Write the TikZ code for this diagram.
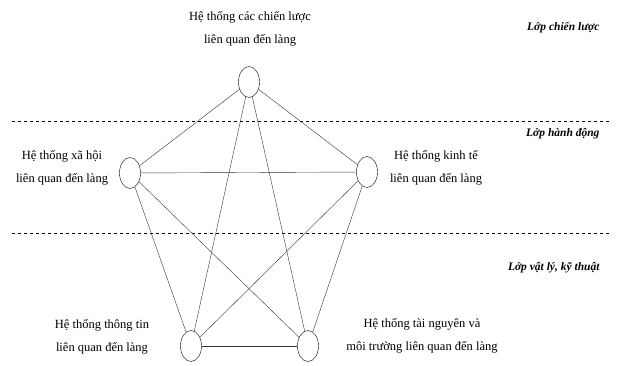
\documentclass[tikz,border=0pt]{standalone}
\usepackage{fontspec}
\setmainfont{Liberation Serif}
\usetikzlibrary{shapes.geometric}

\begin{document}
\begin{tikzpicture}[x=1pt,y=-1pt,
  htnode/.style={draw,ellipse,thin,minimum width=21pt,minimum height=31pt,inner sep=0pt},
  htlabel/.style={align=center,font=\fontsize{12.5}{23}\selectfont},
  loplabel/.style={anchor=east,font=\fontsize{11.5}{12}\selectfont\itshape\bfseries}]
\useasboundingbox (0,0) rectangle (619,366);
% he thong
\node[htnode] (chienluoc) at (249,82) {};
\node[htnode] (xahoi) at (130,173) {};
\node[htnode] (kinhte) at (367,172) {};
\node[htnode] (thongtin) at (191,346) {};
\node[htnode] (tainguyen) at (308,346) {};
\node[htlabel] (tchienluoc) at (250,29) {Hệ thống các chiến lược\\liên quan đến làng};
\node[htlabel] (txahoi) at (62,168) {Hệ thống xã hội\\liên quan đến làng};
\node[htlabel] (tkinhte) at (436,168) {Hệ thống kinh tế\\liên quan đến làng};
\node[htlabel] (tthongtin) at (102,337) {Hệ thống thông tin\\liên quan đến làng};
\node[htlabel] (ttainguyen) at (422,336) {Hệ thống tài nguyên và\\môi trường liên quan đến làng};
% cac lop
\coordinate (l1a) at (12,121);
\coordinate (l1b) at (612,121);
\coordinate (l2a) at (12,233);
\coordinate (l2b) at (612,233);
\draw[dashed,thick] (l1a) -- (l1b);
\draw[dashed,thick] (l2a) -- (l2b);
\node[loplabel] (lop1) at (603,28) {Lớp chiến lược};
\node[loplabel] (lop2) at (603,134) {Lớp hành động};
\node[loplabel] (lop3) at (603,268) {Lớp vật lý, kỹ thuật};
% ket noi
\foreach \a/\b in {chienluoc/xahoi,chienluoc/kinhte,chienluoc/thongtin,chienluoc/tainguyen,
  xahoi/kinhte,xahoi/thongtin,xahoi/tainguyen,kinhte/thongtin,kinhte/tainguyen,thongtin/tainguyen}
  \draw[thin,black!80] (\a) -- (\b);
\end{tikzpicture}
\end{document}
